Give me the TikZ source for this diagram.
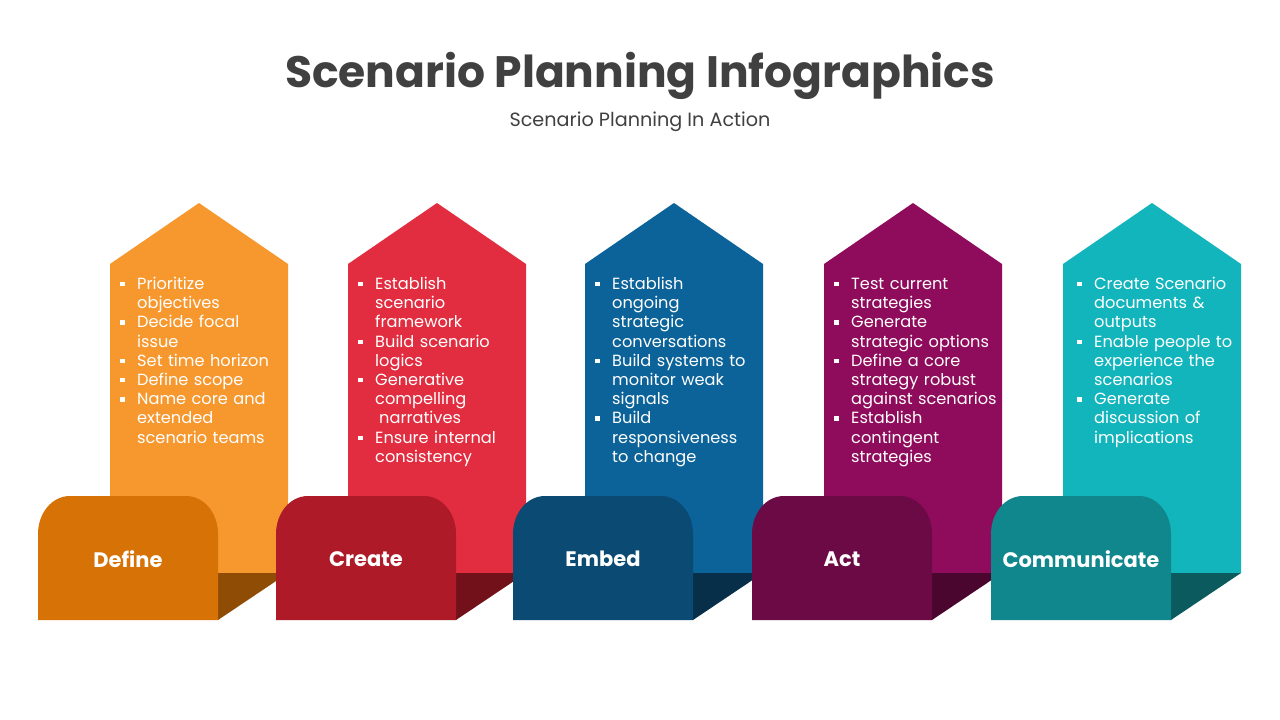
\documentclass[tikz,border=0pt]{standalone}
\usepackage{fontspec}
\setmainfont{Poppins}
\definecolor{txt}{HTML}{404040}
\definecolor{oA}{HTML}{F7982F}\definecolor{oB}{HTML}{D67206}\definecolor{oC}{HTML}{8F4C04}
\definecolor{rA}{HTML}{E12D3F}\definecolor{rB}{HTML}{AE1A27}\definecolor{rC}{HTML}{73111A}
\definecolor{bA}{HTML}{0C6399}\definecolor{bB}{HTML}{0A4A73}\definecolor{bC}{HTML}{072F4A}
\definecolor{pA}{HTML}{8F0C5C}\definecolor{pB}{HTML}{6B0A45}\definecolor{pC}{HTML}{4A062F}
\definecolor{tA}{HTML}{13B5BD}\definecolor{tB}{HTML}{0F878C}\definecolor{tC}{HTML}{0A5A5E}
\newcommand\bitem[1]{\par\noindent\hangindent=17pt\hangafter=1\rightskip=0pt plus 1fil\makebox[17pt][l]{\raisebox{3pt}{\rule{4.5pt}{4.5pt}}}#1\par}
\tikzset{
  bodytext/.style={anchor=north west, text=white, text width=180pt, inner sep=0pt,
    font=\fontsize{16.2}{19.2}\selectfont},
  steplabel/.style={text=white, font=\fontsize{21}{24}\selectfont\bfseries},
}
\newcommand\column[6]{% #1 left x, #2 light, #3 dark, #4 shadow, #5 name, #6 label
  \fill[#2] (#1,264) -- (#1+89,203) -- (#1+178,264) -- (#1+178,573) -- (#1,573) -- cycle;
  \fill[#4] (#1+108,573) -- (#1+178,573) -- (#1+108,620) -- cycle;
  \fill[#3] (#1-72,620) -- (#1-72,534) .. controls (#1-72,513) and (#1-58,496) .. (#1-40,496)
     -- (#1+76,496) .. controls (#1+94,496) and (#1+108,513) .. (#1+108,534) -- (#1+108,620) -- cycle;
  \node[steplabel] (#5) at (#1+18,559) {#6};
}
\begin{document}
\begin{tikzpicture}[x=1pt,y=-1pt]
\useasboundingbox (0,0) rectangle (1280,720);
\fill[white] (0,0) rectangle (1280,720);
\node[text=txt, font=\fontsize{44}{50}\selectfont\bfseries] (title) at (640,76) {Scenario Planning Infographics};
\node[text=txt, font=\fontsize{19.2}{22}\selectfont] (subtitle) at (640,122) {Scenario Planning In Action};

\column{110}{oA}{oB}{oC}{define}{Define}
\column{348}{rA}{rB}{rC}{create}{Create}
\column{585}{bA}{bB}{bC}{embed}{Embed}
\column{824}{pA}{pB}{pC}{act}{Act}
\column{1063}{tA}{tB}{tC}{communicate}{Communicate}

\node[bodytext] (t1) at (120,270) {\bitem{Prioritize\newline objectives}\bitem{Decide focal\newline issue}\bitem{Set time horizon}\bitem{Define scope}\bitem{Name core and\newline extended\newline scenario teams}};
\node[bodytext] (t2) at (358,270) {\bitem{Establish\newline scenario\newline framework}\bitem{Build scenario\newline logics}\bitem{Generative\newline compelling\newline\hspace*{4pt}narratives}\bitem{Ensure internal\newline consistency}};
\node[bodytext] (t3) at (595,270) {\bitem{Establish\newline ongoing\newline strategic\newline conversations}\bitem{Build systems to\newline monitor weak\newline signals}\bitem{Build\newline responsiveness\newline to change}};
\node[bodytext] (t4) at (834,270) {\bitem{Test current\newline strategies}\bitem{Generate\newline strategic options}\bitem{Define a core\newline strategy robust\newline against scenarios}\bitem{Establish\newline contingent\newline strategies}};
\node[bodytext] (t5) at (1077,270) {\bitem{Create Scenario\newline documents \&\newline outputs}\bitem{Enable people to\newline experience the\newline scenarios}\bitem{Generate\newline discussion of\newline implications}};
\end{tikzpicture}
\end{document}
